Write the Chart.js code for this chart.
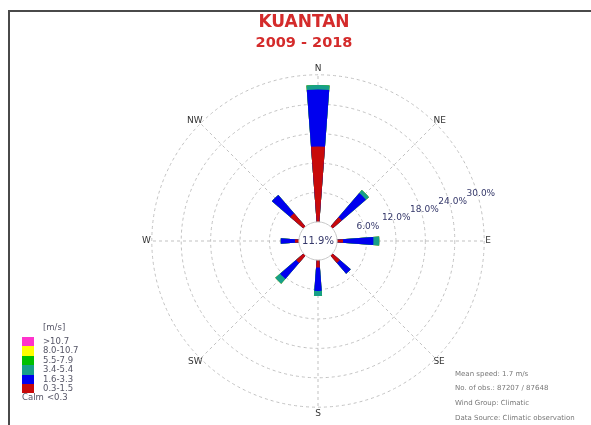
<!DOCTYPE html>
<html>
<head>
<meta charset="utf-8">
<script src="https://cdn.jsdelivr.net/npm/chart.js@4.4.1/dist/chart.umd.min.js"></script>
<style>
  body { margin: 0; background: #fff; }
  #wrap { position: relative; width: 591px; height: 425px; overflow: hidden; background: #fff; font-family: "DejaVu Sans", sans-serif; }
  #rose { position: absolute; left: 0; top: 0; }
  .frame { position: absolute; left: 8px; top: 10px; width: 600px; height: 430px; border-top: 2px solid #4a4a4a; border-left: 2px solid #4a4a4a; }
  .title { position: absolute; left: 204px; width: 200px; text-align: center; color: #d42b2b; font-weight: bold; white-space: nowrap; }
  .leg { position: absolute; left: 22px; height: 9.4px; line-height: 9.4px; font-size: 8.5px; color: #556; white-space: nowrap; }
  .leg .box { position: absolute; left: 0; top: 0; width: 12px; height: 9.4px; }
  .leg .txt { position: absolute; left: 21px; top: 0; }
  .info { position: absolute; left: 455px; font-size: 7px; line-height: 7px; color: #777; white-space: nowrap; }
</style>
</head>
<body>
<div id="wrap">
  <canvas id="rose" width="591" height="425"></canvas>
  <div class="frame"></div>
  <div class="title" id="title1" style="top:13px;font-size:17px;line-height:17px;"></div>
  <div class="title" id="title2" style="top:34.5px;font-size:14.5px;line-height:14.5px;"></div>
  <div id="legend"></div>
  <div id="info"></div>
</div>
<script>
// station / period
const station = 'KUANTAN';
const period = '2009 - 2018';

// wind directions, clockwise from north
const directions = ['N', 'NE', 'E', 'SE', 'S', 'SW', 'W', 'NW'];

// speed classes (m/s) and their colours
const speedClasses = ['0.3-1.5', '1.6-3.3', '3.4-5.4', '5.5-7.9', '8.0-10.7', '>10.7'];
const classColors = ['#c80a0a', '#0000ee', '#179f8a', '#00c000', '#ffff00', '#ff33cc'];

// frequency (%) of each speed class per direction (N, NE, E, SE, S, SW, W, NW)
const freq03_15 = [15.4, 2.5, 1.2, 2.0, 1.5, 2.0, 0.8, 3.6];
const freq16_33 = [11.6, 6.5, 6.2, 2.9, 4.8, 4.3, 2.9, 4.9];
const freq34_54 = [0.9, 0.8, 1.2, 0.0, 1.0, 1.3, 0.0, 0.0];
const freq55_79 = [0, 0, 0, 0, 0, 0, 0, 0];
const freq80_107 = [0, 0, 0, 0, 0, 0, 0, 0];
const freqAbove107 = [0, 0, 0, 0, 0, 0, 0, 0];

// calm share and ring ticks (%)
const calmPct = 11.9;
const ringTicks = [6, 12, 18, 24, 30];

// footnote lines
const infoLines = ['Mean speed: 1.7 m/s', 'No. of obs.: 87207 / 87648', 'Wind Group: Climatic', 'Data Source: Climatic observation'];

document.getElementById('title1').textContent = station;
document.getElementById('title2').textContent = period;

// legend, top = strongest class
const legend = document.getElementById('legend');
const legTop = 337;
const rowH = 9.4;
const unit = document.createElement('div');
unit.className = 'leg';
unit.style.top = (legTop - 14) + 'px';
unit.innerHTML = '<span class="txt">[m/s]</span>';
legend.appendChild(unit);
for (let k = 0; k < speedClasses.length; k++) {
    const c = speedClasses.length - 1 - k;
    const row = document.createElement('div');
    row.className = 'leg';
    row.style.top = (legTop + k * rowH) + 'px';
    row.innerHTML = `<span class="box" style="background:${classColors[c]}"></span><span class="txt"></span>`;
    row.querySelector('.txt').textContent = speedClasses[c];
    legend.appendChild(row);
}
const calmRow = document.createElement('div');
calmRow.className = 'leg';
calmRow.style.top = (legTop + speedClasses.length * rowH) + 'px';
calmRow.innerHTML = '<span>Calm</span><span style="position:absolute;left:25px">&lt;0.3</span>';
legend.appendChild(calmRow);

// footnote
const info = document.getElementById('info');
const infoY = [370.5, 384.5, 399.5, 414.5];
infoLines.forEach((t, i) => {
    const d = document.createElement('div');
    d.className = 'info';
    d.style.top = infoY[i] + 'px';
    d.textContent = t;
    info.appendChild(d);
});

// polar area slices: a gap then a narrow wedge, going round from just past north
const wedgeOrder = [1, 2, 3, 4, 5, 6, 7, 0];
const wedgeWidth = 8.5;
const sliceAngles = [];
wedgeOrder.forEach((d, k) => {
    sliceAngles.push(k === 0 ? 45 - wedgeWidth / 2 : 45 - wedgeWidth);
    sliceAngles.push(wedgeWidth);
});

// stacked classes drawn as cumulative wedges, first dataset ends up on top
const classSeries = [freq03_15, freq16_33, freq34_54, freq55_79, freq80_107, freqAbove107];
let running = directions.map(() => 0);
const datasets = classSeries.map((series, c) => {
    running = running.map((v, i) => v + series[i]);
    const cum = running.slice();
    const data = [];
    wedgeOrder.forEach(d => { data.push(null); data.push(cum[d]); });
    return {
        label: speedClasses[c],
        data: data,
        backgroundColor: classColors[c],
        borderWidth: 0,
        angle: (ctx) => sliceAngles[ctx.dataIndex]
    };
});

// calm circle in the middle + ring percentage labels
const roseExtras = {
    id: 'roseExtras',
    afterDraw(chart) {
        const r = chart.scales.r;
        const ctx = chart.ctx;
        const calmR = r.getDistanceFromCenterForValue(0);
        ctx.save();
        ctx.beginPath();
        ctx.arc(r.xCenter, r.yCenter, calmR, 0, Math.PI * 2);
        ctx.fillStyle = '#fff';
        ctx.fill();
        ctx.strokeStyle = '#c8c8c8';
        ctx.lineWidth = 1;
        ctx.stroke();
        ctx.fillStyle = '#35386a';
        ctx.textAlign = 'center';
        ctx.textBaseline = 'middle';
        ctx.font = '10px "DejaVu Sans"';
        ctx.fillText(calmPct.toFixed(1) + '%', r.xCenter, r.yCenter + 0.5);
        ctx.font = '9px "DejaVu Sans"';
        const a = 16.3 * Math.PI / 180;
        ringTicks.forEach(v => {
            const d = r.getDistanceFromCenterForValue(v) + 3.5;
            ctx.fillText(v.toFixed(1) + '%', r.xCenter + d * Math.cos(a), r.yCenter - d * Math.sin(a));
        });
        ctx.restore();
    }
};

Chart.defaults.font.family = '"DejaVu Sans", sans-serif';

new Chart(document.getElementById('rose'), {
    type: 'polarArea',
    data: {
        labels: directions,
        datasets: datasets
    },
    options: {
        responsive: false,
        animation: false,
        layout: { padding: { left: 139, right: 96, top: 64, bottom: 5 } },
        plugins: {
            legend: { display: false },
            tooltip: { enabled: false },
            title: { display: false }
        },
        scales: {
            r: {
                min: -3.9,
                max: 30,
                startAngle: 0,
                z: 1,
                afterBuildTicks: (scale) => { scale.ticks = ringTicks.map(v => ({ value: v })); },
                ticks: { display: false },
                grid: { circular: true, color: '#c2c2c2', lineWidth: 1 },
                border: { dash: [3, 3] },
                angleLines: { display: true, color: '#c2c2c2', lineWidth: 1, borderDash: [3, 3] },
                pointLabels: {
                    display: true,
                    centerPointLabels: false,
                    color: '#333',
                    font: { size: 9 },
                    padding: (ctx) => (ctx.index % 2 ? -3 : 1)
                }
            }
        }
    },
    plugins: [roseExtras]
});
</script>
</body>
</html>
